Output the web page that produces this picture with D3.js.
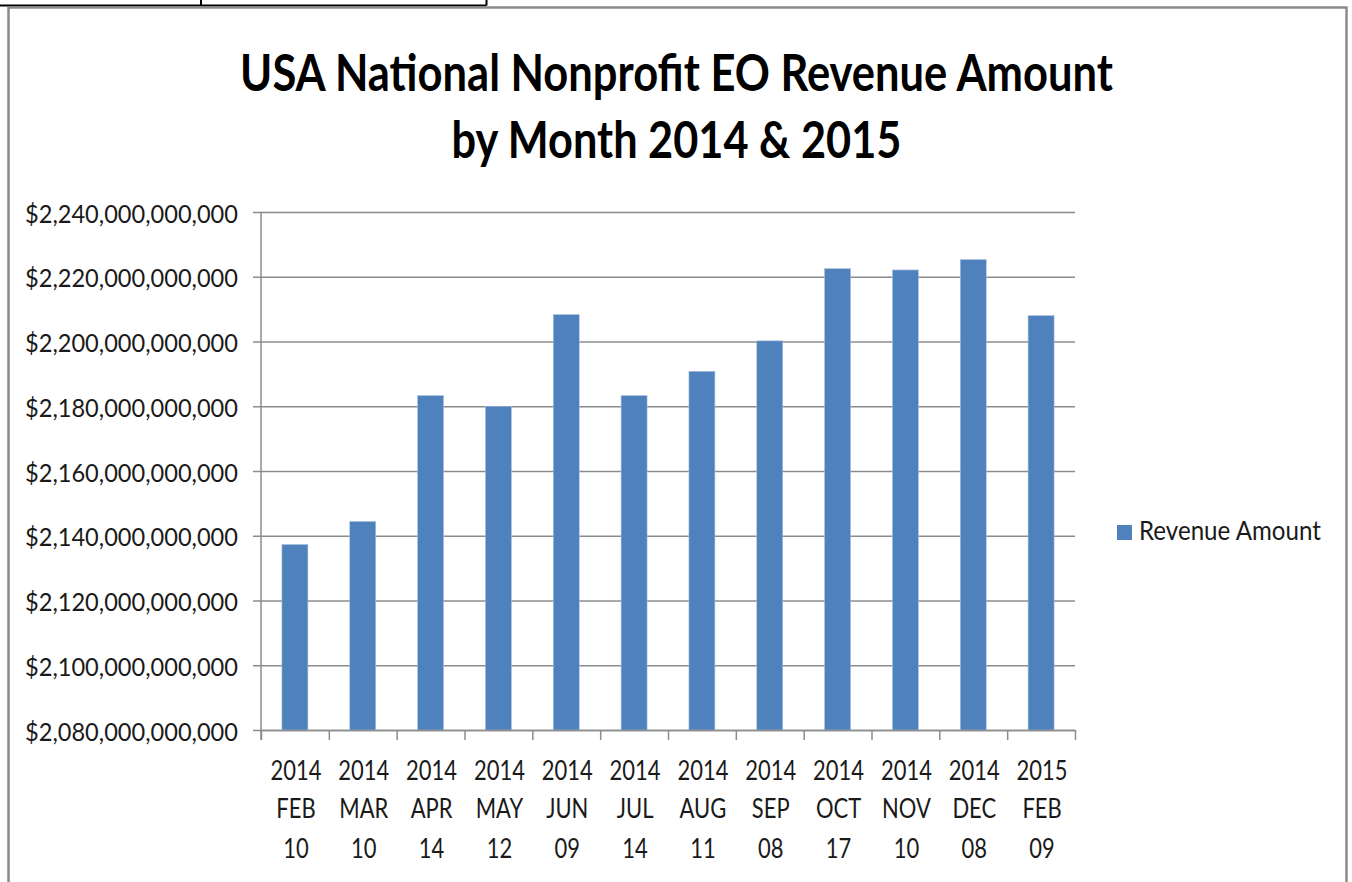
<!DOCTYPE html>
<html lang="en">
<head>
  <meta charset="UTF-8">
  <title>USA National Nonprofit EO Revenue Amount</title>
  <style>
    body {
      margin: 0;
      background-color: #ffffff;
      font-family: Lato, "Open Sans", sans-serif;
    }
    svg {
      display: block;
    }
  </style>
</head>
<body>
<div id="chart"></div>
<script src="https://d3js.org/d3.v7.min.js"></script>
<script>
  // data (billions of dollars)
  const years = ["2014", "2014", "2014", "2014", "2014", "2014", "2014", "2014", "2014", "2014", "2014", "2015"];
  const months = ["FEB", "MAR", "APR", "MAY", "JUN", "JUL", "AUG", "SEP", "OCT", "NOV", "DEC", "FEB"];
  const days = ["10", "10", "14", "12", "09", "14", "11", "08", "17", "10", "08", "09"];
  const revenue = [2137.3, 2144.4, 2183.3, 2180.0, 2208.3, 2183.3, 2190.8, 2200.2, 2222.5, 2222.1, 2225.3, 2208.0];
  const yTicks = [2080, 2100, 2120, 2140, 2160, 2180, 2200, 2220, 2240];
  const titleLines = ["USA National Nonprofit EO Revenue Amount", "by Month 2014 & 2015"];
  const seriesName = "Revenue Amount";

  const width = 1352;
  const height = 882;
  const plot = { left: 261, right: 1075, top: 212, bottom: 730 };
  const barColor = "#4f81bd";
  const gridColor = "#8c8c8c";

  const svg = d3.select("#chart").append("svg")
          .attr("width", width)
          .attr("height", height);

  // stray table border above the chart
  svg.append("path")
          .attr("d", "M0,5.5H486.5M201,0V5.5M486.5,0V5.5")
          .attr("fill", "none")
          .attr("stroke", "#000")
          .attr("stroke-width", 2);

  // chart frame
  svg.append("rect")
          .attr("x", 8.5).attr("y", 7.5)
          .attr("width", 1338).attr("height", 900)
          .attr("fill", "#fff")
          .attr("stroke", "#8a8a8a")
          .attr("stroke-width", 2.5);

  const labels = months.map((m, i) => years[i] + " " + m + " " + days[i]);

  const x = d3.scaleBand()
          .domain(labels)
          .range([plot.left, plot.right])
          .paddingInner(0.617)
          .paddingOuter(0.3085);

  const xEdges = d3.scaleLinear().domain([0, labels.length]).range([plot.left, plot.right]);

  const y = d3.scaleLinear()
          .domain([yTicks[0], yTicks[yTicks.length - 1]])
          .range([plot.bottom, plot.top]);

  // squeeze a text horizontally so it fits a measured width
  function squeeze(sel, target, cx, cy) {
    sel.each(function() {
      const w = this.getComputedTextLength();
      const s = target / w;
      d3.select(this).attr("transform", `translate(${cx},${cy}) scale(${s},1)`);
    });
  }

  // gridlines
  svg.append("g")
          .attr("transform", `translate(${plot.left},0)`)
          .call(d3.axisLeft(y).tickValues(yTicks).tickSize(-(plot.right - plot.left)).tickFormat(""))
          .call(g => g.select(".domain").remove())
          .call(g => g.selectAll("line").attr("stroke", gridColor).attr("stroke-width", 1.5));

  // bars
  svg.append("g")
          .selectAll("rect")
          .data(revenue)
          .join("rect")
          .attr("x", (d, i) => x(labels[i]))
          .attr("y", d => y(d))
          .attr("width", x.bandwidth())
          .attr("height", d => y(yTicks[0]) - y(d))
          .attr("fill", barColor)
          .attr("stroke", "#a9c1e0")
          .attr("stroke-width", 0.6);

  // y axis
  const yAxis = svg.append("g")
          .attr("transform", `translate(${plot.left},0)`)
          .call(d3.axisLeft(y).tickValues(yTicks).tickSize(8).tickSizeOuter(0).tickFormat(""));
  yAxis.selectAll("line, path").attr("stroke", gridColor).attr("stroke-width", 1.5);
  yAxis.select(".domain").attr("d", `M0,${plot.top}V${plot.bottom + 10}`);

  const fmt = d3.format(",.0f");
  svg.append("g")
          .selectAll("text")
          .data(yTicks)
          .join("text")
          .attr("text-anchor", "end")
          .attr("dominant-baseline", "central")
          .attr("font-size", 24.5)
          .attr("fill", "#1a1a1a")
          .text(d => "$" + fmt(d) + ",000,000,000")
          .each(function(d) {
            squeeze(d3.select(this), 213, 238, y(d) + 1);
          });

  // x axis with ticks on the category edges
  const xAxis = svg.append("g")
          .attr("transform", `translate(0,${plot.bottom})`)
          .call(d3.axisBottom(xEdges).tickValues(d3.range(labels.length + 1)).tickSize(10).tickSizeOuter(0).tickFormat(""));
  xAxis.selectAll("line, path").attr("stroke", gridColor).attr("stroke-width", 1.5);

  // three-line category labels
  const xLab = svg.append("g").attr("font-size", 27.5).attr("fill", "#1a1a1a").attr("text-anchor", "middle");
  const probe = xLab.append("text").text("2014");
  const xScaleX = 51 / probe.node().getComputedTextLength();
  probe.remove();
  const rows = [years, months, days];
  const rowBase = [780, 818, 858];
  rows.forEach((row, r) => {
    xLab.selectAll(null)
            .data(row)
            .join("text")
            .text(d => d)
            .attr("transform", (d, i) => `translate(${x(labels[i]) + x.bandwidth() / 2 + 1},${rowBase[r]}) scale(${xScaleX},1)`);
  });

  // title
  svg.append("g")
          .attr("font-size", 52)
          .attr("font-weight", "bold")
          .attr("fill", "#000")
          .attr("text-anchor", "middle")
          .selectAll("text")
          .data(titleLines)
          .join("text")
          .text(d => d)
          .each(function(d, i) {
            squeeze(d3.select(this), i === 0 ? 873 : 450, 676.5, i === 0 ? 91 : 158);
          });

  // legend
  const legend = svg.append("g");
  legend.append("rect")
          .attr("x", 1117).attr("y", 525)
          .attr("width", 15).attr("height", 15)
          .attr("fill", barColor);
  legend.append("text")
          .attr("font-size", 26.5)
          .attr("fill", "#1a1a1a")
          .text(seriesName)
          .call(t => squeeze(t, 182, 1139, 540));
</script>
</body>
</html>
